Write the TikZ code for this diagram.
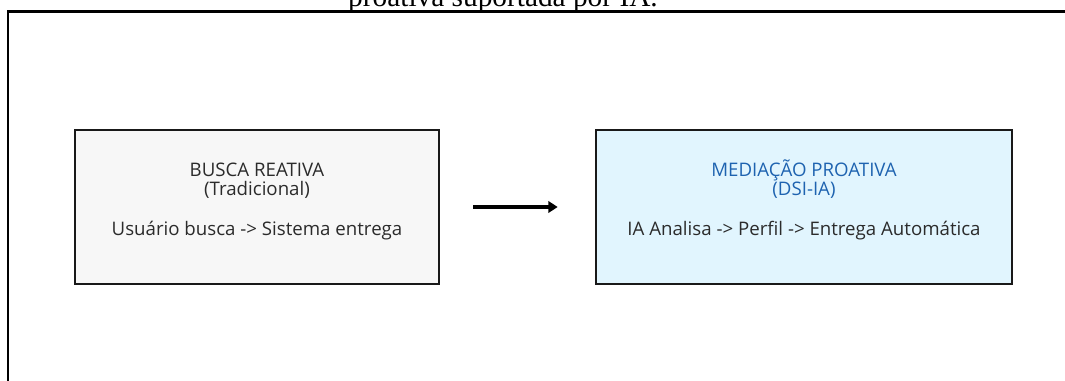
\documentclass[tikz,border=0pt]{standalone}
\usepackage{fontspec}
\setmainfont{Liberation Serif}
\newfontfamily\diagfont{Open Sans}
\usetikzlibrary{arrows.meta,positioning}
\definecolor{cinzaclaro}{HTML}{F7F7F7}
\definecolor{azulclaro}{HTML}{E1F5FE}
\definecolor{azultitulo}{HTML}{1E63B0}
\definecolor{textoescuro}{HTML}{2B2B2B}

\begin{document}
\begin{tikzpicture}[x=0.75pt,y=-0.75pt,
  caixa/.style={draw=black!90,line width=1.9pt,minimum height=115.5pt,inner sep=0pt},
  rotulo/.style={font=\diagfont\fontsize{14}{16}\selectfont,text=textoescuro,anchor=base,inner sep=0pt},
  seta/.style={line width=2.6pt,-{Triangle[length=7pt,width=8.5pt]},shorten <=24.75pt,shorten >=27.75pt}]
\useasboundingbox (0,0) rectangle (1065,381);

% moldura cortada
\draw[line width=2pt] (8,395) -- (8,11.5) -- (1075,11.5);
\node[font=\fontsize{22}{26}\selectfont,anchor=base,inner sep=0pt] (legenda) at (503,7) {proativa suportada por IA.};

% caixas
\node[caixa,fill=cinzaclaro,minimum width=273pt] (busca) at (257,207) {};
\node[caixa,fill=azulclaro,minimum width=312pt] (mediacao) at (804,207) {};

\node[rotulo] (buscaA) at (257,177) {BUSCA REATIVA};
\node[rotulo] (buscaB) at (257,196) {(Tradicional)};
\node[rotulo] (buscaC) at (257,236) {Usuário busca -> Sistema entrega};

\node[rotulo,text=azultitulo] (mediacaoA) at (804,177) {MEDIAÇÃO PROATIVA};
\node[rotulo,text=azultitulo] (mediacaoB) at (804,196) {(DSI-IA)};
\node[rotulo] (mediacaoC) at (804,236) {IA Analisa -> Perfil -> Entrega Automática};

\draw[seta] (busca) -- (mediacao);
\end{tikzpicture}
\end{document}
